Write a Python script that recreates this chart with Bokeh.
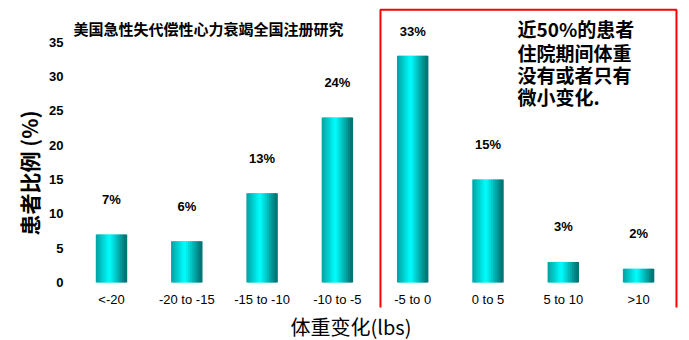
from bokeh.plotting import figure
from bokeh.models import FixedTicker, BoxAnnotation, Title, ColumnDataSource
from bokeh.core.properties import value
from bokeh.embed import file_html
from bokeh.resources import INLINE

categories = ["<-20", "-20 to -15", "-15 to -10", "-10 to -5", "-5 to 0", "0 to 5", "5 to 10", ">10"]
percent = [7, 6, 13, 24, 33, 15, 3, 2]
pct_labels = ["7%", "6%", "13%", "24%", "33%", "15%", "3%", "2%"]
y_ticks = [0, 5, 10, 15, 20, 25, 30, 35]
title_text = "美国急性失代偿性心力衰竭全国注册研究"
note_lines = ["近50%的患者", "住院期间体重", "没有或者只有", "微小变化."]
x_title = "体重变化(lbs)"
y_title = "患者比例 (%)"

xs = list(range(len(categories)))

p = figure(width=689, height=340, output_backend="svg", toolbar_location=None,
           x_range=(-0.5445, 7.6229), y_range=(-3.639, 40.318),
           min_border_left=70, min_border_right=4, min_border_top=5, min_border_bottom=20)
p.outline_line_color = None
p.xgrid.visible = False
p.ygrid.visible = False
p.background_fill_color = "white"

# gradient bars built from narrow strips
n = 16
bw = 0.4
for i in range(n):
    t = (i + 0.5) / n
    if t < 0.45:
        c = 160 + (255 - 160) * (t / 0.45)
    else:
        c = 255 - (255 - 110) * ((t - 0.45) / 0.55)
    c = int(round(c))
    color = "#00%02x%02x" % (c, c)
    p.vbar(x=[x - bw / 2 + (i + 0.5) * bw / n for x in xs], top=percent, bottom=0,
           width=bw / n * 1.7, fill_color=color, line_color=None)

label_y = [min(v + 5.1, 36.5) for v in percent]
src = ColumnDataSource(dict(x=xs, y=label_y, t=pct_labels))
p.text(x="x", y="y", text="t", source=src, text_align="center", text_baseline="middle",
       text_font=value("Liberation Sans"), text_font_style="bold", text_font_size="13px",
       text_color="black")

# title
p.text(x=[-0.505], y=[36.97], text=[title_text], text_align="left", text_baseline="middle",
       text_font=value("Noto Sans CJK SC"), text_font_style="bold", text_font_size="15px",
       text_color="black")

# note text
p.text(x=[5.392] * 4, y=[36.97, 33.48, 30.28, 27.07], text=note_lines, text_align="left",
       text_baseline="middle", text_font=value("Noto Sans CJK SC"), text_font_style="bold",
       text_font_size="19px", text_color="black")

# red box
p.add_layout(BoxAnnotation(left=3.572, right=7.503, bottom=-3.93, top=39.69,
                           fill_color=None, fill_alpha=0, line_color="red", line_alpha=1.0,
                           line_width=2))

# y axis
ya = p.yaxis[0]
ya.ticker = FixedTicker(ticks=y_ticks)
ya.axis_line_color = None
ya.major_tick_line_color = None
ya.minor_tick_line_color = None
ya.major_tick_out = 0
ya.major_tick_in = 0
ya.major_label_standoff = 7
ya.major_label_text_font = "Liberation Sans"
ya.major_label_text_font_style = "bold"
ya.major_label_text_font_size = "13px"
ya.major_label_text_color = "black"

# x axis
xa = p.xaxis[0]
xa.ticker = FixedTicker(ticks=xs)
xa.major_label_overrides = {i: c for i, c in zip(xs, categories)}
xa.axis_line_color = None
xa.major_tick_line_color = None
xa.minor_tick_line_color = None
xa.major_tick_out = 0
xa.major_tick_in = 0
xa.major_label_standoff = -16
xa.major_label_text_font = "Liberation Sans"
xa.major_label_text_font_size = "13px"
xa.major_label_text_color = "black"

# axis titles
p.add_layout(Title(text=x_title, align="left", offset=220, text_font="Noto Sans CJK SC",
                   text_font_style="normal", text_font_size="20px", text_color="black",
                   standoff=0), "below")
p.add_layout(Title(text=y_title, align="left", offset=72, text_font="Noto Sans CJK SC",
                   text_font_style="bold", text_font_size="21px", text_color="black",
                   standoff=6), "left")

open("out.html", "w").write(file_html(p, INLINE))
